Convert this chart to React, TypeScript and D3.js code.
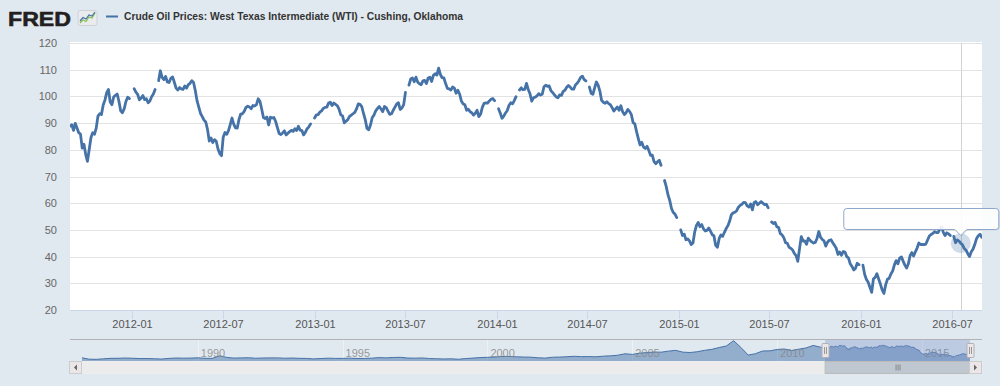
import * as d3 from 'd3';

// Series title shown in the legend
const seriesTitle = 'Crude Oil Prices: West Texas Intermediate (WTI) - Cushing, Oklahoma';

// WTI spot price, dollars per barrel, two readings a week (null = no trading, line breaks)
const wti2011 = [
    88.8, 89.4, 87.3, 89.9, 88.2, 86.4, 85.9, 80.6, 82.1,
    78.2, 75.7, 80.1, 84.6, 86.4, 85.8, 88.1, 92.6, 93.5,
    93.2, 96.8, 98.6, 101.4, 102.6, 97.9, 96.9, 99.8,
    100.4, 100.9, 98.2, 94.6, 93.9, 95.3, 98.1, 99.7, 99.2,
];
const wti2012 = [
    null, 102.9, 101.6, 100.8, 98.7, 99.4, 100.3, 98.8, 99.1,
    97.6, 98.3, 99.9, 100.9, 102.6, null, 105.9, 109.6,
    107.1, 106.3, 107.5, 105.4, 105.2, 106.8, 107.3, 105.3, 103.1,
    102.4, 103.3, 102.8, 102.6, 103.9, 103.1, 104.4, 104.9, 105.9,
    105.2, 102.2, 98.4, 96.0, 93.6, 92.4, 91.1, 90.4, 87.6,
    83.3, 84.4, 82.7, 83.8, 83.2, 80.3, 78.6, 77.8,
    84.8, 86.5, 85.8, 87.2, 89.4, 91.9, 89.6, 88.2, 88.1,
    91.3, 93.4, 93.5, 94.4, 95.9, 96.3, 96.0, 95.4, 96.6,
    96.4, 96.9, 99.1, 98.2, 95.3, 92.1, 91.7, 92.3,
    89.3, 92.2, 91.9, 92.1, 90.6, 88.3, 86.1, 85.7, 86.3,
    87.1, 85.6, 86.2, 86.8, 87.3, 86.9, 87.9, 87.2, 88.8,
    87.4, 87.2, 85.6, 86.5, 87.9, 88.6, 89.7, null,
];
const wti2013 = [
    91.9, 93.1, 93.2, 94.1, 94.6, 95.5, 95.9, 96.0, 97.5,
    97.8, 96.6, 97.5, 97.0, 96.5, 95.2, 93.1, 92.7,
    90.1, 90.7, 91.3, 92.5, 93.0, 93.5, 94.0, 95.3, 97.2,
    97.0, 96.2, 93.6, 91.3, 88.0, 87.5, 89.3, 92.1, 93.0,
    94.6, 95.5, 96.2, 95.3, 94.3, 96.2, 95.8, 94.5, 93.3,
    93.5, 94.8, 96.0, 97.2, 97.6, 95.1, 95.7, 96.9,
    101.5, null, 104.2, 106.5, 106.9, 105.5, 107.2, 105.4, 104.7,
    104.4, 105.8, 106.0, 104.8, 106.9, 107.2, 105.6, 107.9, 108.5,
    108.0, 110.6, 108.2, 107.0, 106.9, 104.8, 103.0, 102.8,
    102.4, 103.5, 103.1, 101.2, 102.3, 100.9, 98.3, 97.2, 96.9,
    94.8, 95.2, 94.3, 93.8, 93.0, 93.7, 94.8, 92.4, 93.3,
    95.9, 97.4, 97.6, 97.5, 98.3, 98.9, 99.2, 98.4,
];
const wti2014 = [
    null, 95.4, 93.7, 91.8, 92.6, 93.8, 94.7, 96.7, 97.6,
    97.2, 98.4, 99.9, null, 102.4, 103.2, 102.5, 102.6,
    104.9, 102.6, 101.0, 98.2, 99.5, 99.7, 100.2, 101.0, 100.5,
    100.8, 103.6, 104.2, 103.8, 103.9, 102.1, 101.4, 100.6, 99.8,
    99.5, 100.6, 100.4, 101.9, 102.3, 103.4, 104.1, 103.5, 102.7,
    102.7, 104.3, 104.9, 105.9, 107.1, 107.6, 106.3, 105.8,
    null, 103.5, 101.2, 100.8, 103.2, 105.4, 104.2, 102.0, 98.5,
    97.8, 97.4, 98.0, 97.3, 96.9, 95.8, 94.5, 95.3, 96.0,
    94.8, 96.5, 94.3, 93.2, 93.9, 95.1, 94.4, 93.2,
    90.2, 89.7, 86.8, 84.2, 81.8, 82.8, 81.0, 80.5, 81.3,
    79.8, 77.9, 78.0, 75.6, 74.8, 75.5, 76.1, 74.2, null,
    68.5, 66.2, 63.1, 61.0, 58.0, 56.5, 55.9, 54.6,
];
const wti2015 = [
    null, 50.0, 47.9, 48.4, 46.3, 46.6, 45.9, 44.5, 45.1,
    49.3, 51.7, 52.8, 51.2, 52.0, 50.4, 49.6, 49.8,
    50.7, 49.6, 48.2, 47.8, 44.2, 43.5, 46.8, 48.1, 47.6,
    49.1, 50.5, 51.6, 53.3, 55.7, 56.4, 56.6, 57.2, 58.5,
    59.2, 59.6, 60.3, 60.2, 59.0, 58.6, 59.7, 57.5, 60.3,
    60.6, 59.4, 60.0, 60.6, 60.0, 59.5, 59.6, 58.3,
    null, 53.0, 52.4, 52.8, 51.2, 50.9, 48.6, 48.1, 47.1,
    45.2, 45.0, 43.5, 43.1, 42.5, 41.2, 40.4, 38.2, 43.0,
    47.5, 45.8, 45.9, 44.6, 46.9, 46.1, 45.5, 45.1,
    45.3, 46.8, 49.4, 47.3, 46.4, 45.9, 43.9, 45.4, 46.1,
    46.3, 45.2, 44.2, 43.1, 40.8, 41.7, 40.5, 41.9, 41.7,
    40.0, 39.5, 37.3, 36.3, 35.0, 35.6, 37.5, 37.0,
];
const wti2016 = [
    null, 36.8, 33.3, 31.4, 30.4, 28.5, 26.6, 31.7, 32.2,
    33.6, 31.6, 29.7, 27.5, 26.2, 29.4, 31.5, 31.9,
    33.5, 34.6, 36.9, 38.5, 37.3, 39.4, 39.9, 38.3, 36.8,
    35.7, 37.3, 40.4, 41.5, 40.2, 41.8, 43.2, 45.1, 44.5,
    44.6, 44.5, 44.7, 46.2, 47.7, 48.3, 48.7, 49.3, 49.0,
    49.0, 50.4, 51.2, 49.1, 47.9, 48.9, 48.5, 47.9,
    null, 47.6, 45.2, 46.2, 45.8, 45.0, 44.4, 43.0, 42.4,
    41.1, 40.0, 41.8, 42.8, 44.5, 46.7, 47.8, 48.4, 47.2,
];
const segmentStarts = ['2011-08-30', '2012-01-02', '2013-01-01', '2014-01-01', '2015-01-01', '2016-01-01'];
const segmentValues = [wti2011, wti2012, wti2013, wti2014, wti2015, wti2016];

// Navigator history, one reading a quarter
const nav1986 = [
    22.0, 12.5, 11.5, 15.0, 18.5, 18.7, 20.5, 19.0, 16.8, 17.0, 15.5, 13.5,
    18.0, 20.5, 19.5, 20.0, 22.0, 18.5, 18.0, 36.0, 25.0, 20.0, 21.5, 22.5,
    19.0, 20.5, 21.5, 21.5, 19.0, 20.5, 18.5, 18.0, 14.5, 17.0, 19.5, 18.0,
    18.0, 19.5, 17.5, 17.5,
];
const nav1996 = [
    19.5, 23.5, 21.5, 24.5, 25.5, 20.5, 19.5, 21.0, 17.0, 15.5, 14.0, 15.0,
    12.0, 17.0, 20.0, 23.5, 25.5, 27.5, 31.5, 31.5, 29.0, 27.5, 26.5, 22.0,
    20.0, 26.0, 27.0, 29.5, 32.5, 30.0, 30.5, 29.0, 33.5, 35.5, 40.0, 50.0,
    45.5, 54.0, 58.0, 62.0,
];
const nav2006 = [
    61.0, 68.0, 73.5, 61.0, 58.5, 64.0, 73.5, 80.5, 93.0, 104.0, 140.5, 93.5,
    41.0, 50.0, 69.0, 70.0, 79.5, 83.0, 72.0, 81.5, 90.0, 107.5, 95.5,
];

const yTicks = [20, 30, 40, 50, 60, 70, 80, 90, 100, 110, 120];
const xTickLabels = ['2012-01', '2012-07', '2013-01', '2013-07', '2014-01', '2014-07', '2015-01', '2015-07', '2016-01', '2016-07'];
const navTickYears = ['1990', '1995', '2000', '2005', '2010', '2015'];
const hoverDate = '2016-07-18';

const FONT = '"Liberation Sans", Arial, sans-serif';
const LINE = '#4572a7';
const BG = '#e1e9f0';
const DAY = 86400000;

type Pt = { date: Date, value: number | null };

function spread(start: string, values: (number | null)[]): Pt[] {
    const t0 = new Date(start).getTime();
    return values.map((v, i) => ({ date: new Date(t0 + i * 3.5 * DAY), value: v }));
}

function quarterly(startYear: number, values: number[]): Pt[] {
    return values.map((v, i) => ({ date: new Date(Date.UTC(startYear + Math.floor(i / 4), (i % 4) * 3, 2)), value: v }));
}

const wti = segmentStarts.flatMap((s, i) => spread(s, segmentValues[i]));
const navData = [
    ...quarterly(1986, nav1986),
    ...quarterly(1996, nav1996),
    ...quarterly(2006, nav2006),
    ...wti.filter(d => d.value != null),
];

export default function App() {
    const plot = { left: 70, right: 982, top: 43, bottom: 310 };
    const nav = { left: 82, right: 970, top: 339, bottom: 361 };

    const x = d3.scaleUtc().domain([new Date('2011-08-30'), new Date('2016-08-30')]).range([plot.left, plot.right]);
    const y = d3.scaleLinear().domain([20, 120]).range([plot.bottom, plot.top]);
    const nx = d3.scaleUtc().domain([new Date('1986-01-02'), new Date('2016-08-30')]).range([nav.left, nav.right]);
    const ny = d3.scaleLinear().domain([0, 145]).range([nav.bottom, nav.top + 1]);

    const line = d3.line<Pt>()
        .defined(d => d.value != null)
        .x(d => x(d.date))
        .y(d => y(d.value as number));

    const navArea = d3.area<Pt>()
        .x(d => nx(d.date))
        .y0(nav.bottom)
        .y1(d => ny(d.value as number));
    const navLine = d3.line<Pt>()
        .x(d => nx(d.date))
        .y(d => ny(d.value as number));

    const parseMonth = d3.utcParse('%Y-%m')!;
    const parseYear = d3.utcParse('%Y')!;

    // hovered point
    const ht = new Date(hoverDate).getTime();
    const hover = d3.least(wti.filter(d => d.value != null), d => Math.abs(d.date.getTime() - ht))!;
    const hx = x(hover.date);
    const hy = y(hover.value as number);

    // selected range in the navigator
    const selL = nx(x.domain()[0]);
    const selR = nx(x.domain()[1]);

    const tipL = hx - 117, tipR = hx + 38, tipT = 208.5, tipB = 229.5;
    const tipPath = `M${tipL + 3},${tipT} L${tipR - 3},${tipT} Q${tipR},${tipT} ${tipR},${tipT + 3} L${tipR},${tipB - 3} Q${tipR},${tipB} ${tipR - 3},${tipB} `
        + `L${hx + 6},${tipB} L${hx},${tipB + 6} L${hx - 6},${tipB} L${tipL + 3},${tipB} Q${tipL},${tipB} ${tipL},${tipB - 3} `
        + `L${tipL},${tipT + 3} Q${tipL},${tipT} ${tipL + 3},${tipT} Z`;

    const handle = (hxp: number) => (
        <g key={hxp}>
            <rect x={hxp - 3.5} y={343.5} width={7} height={14} rx={1} fill="#ebe7e8" stroke="#b2b1b6" />
            <line x1={hxp - 1} x2={hxp - 1} y1={347} y2={354} stroke="#999" />
            <line x1={hxp + 1} x2={hxp + 1} y1={347} y2={354} stroke="#999" />
        </g>
    );

    return (
        <svg width={1000} height={386} style={{ position: 'absolute', left: 0, top: 0, fontFamily: FONT }}>
            <rect width={1000} height={386} fill={BG} />

            {/* header */}
            <text x={8} y={25.5} fontSize={21} fontWeight={900} fill="#231f20" stroke="#231f20" strokeWidth={0.6}
                textLength={63} lengthAdjust="spacingAndGlyphs">FRED</text>
            <rect x={78} y={10.5} width={19} height={15} rx={2} fill="#e9ebed" stroke="#cfd3d6" />
            <polyline points="80,23 83,20 86,21.5 89,17 92,18 95,13" fill="none" stroke="#8cc152" strokeWidth={1.2} />
            <polyline points="80,21 83,17.5 86,19 89,15 92,16 95,12" fill="none" stroke={LINE} strokeWidth={1.2} />
            <line x1={106} x2={118} y1={16.5} y2={16.5} stroke={LINE} strokeWidth={2} />
            <text x={124} y={20} fontSize={11} fontWeight="bold" fill="#333" textLength={339} lengthAdjust="spacingAndGlyphs">{seriesTitle}</text>

            {/* plot */}
            <defs>
                <clipPath id="plotClip">
                    <rect x={plot.left} y={plot.top - 5} width={plot.right - plot.left} height={plot.bottom - plot.top + 10} />
                </clipPath>
            </defs>
            <rect x={plot.left} y={plot.top - 1} width={plot.right - plot.left} height={plot.bottom - plot.top + 1} fill="#fff" />
            {yTicks.map(t => (
                <g key={t}>
                    <line x1={plot.left} x2={plot.right} y1={Math.round(y(t)) + 0.5} y2={Math.round(y(t)) + 0.5} stroke="#e3e3e3" />
                    <text x={57} y={y(t) + 4} fontSize={11} fill="#666" textAnchor="end">{t}</text>
                </g>
            ))}
            <line x1={plot.left} x2={plot.right} y1={plot.bottom + 0.5} y2={plot.bottom + 0.5} stroke="#ccd6eb" />
            {xTickLabels.map(l => {
                const tx = Math.round(x(parseMonth(l)!)) + 0.5;
                return (
                    <g key={l}>
                        <line x1={tx} x2={tx} y1={plot.bottom} y2={plot.bottom + 9} stroke="#ccd6eb" />
                        <text x={tx} y={327.5} fontSize={11} fill="#555" textAnchor="middle">{l}</text>
                    </g>
                );
            })}

            {/* crosshair */}
            <line x1={Math.round(hx) + 0.5} x2={Math.round(hx) + 0.5} y1={plot.top} y2={plot.bottom} stroke="#d2d2d2" />

            <path d={line(wti) ?? ''} fill="none" stroke={LINE} strokeWidth={2.8} strokeLinejoin="round" strokeLinecap="round" clipPath="url(#plotClip)" />

            {/* hover halo */}
            <circle cx={hx} cy={hy} r={10} fill={LINE} fillOpacity={0.25} />

            {/* tooltip */}
            <path d={tipPath} fill="#000" fillOpacity={0.06} transform="translate(1,1)" />
            <path d={tipPath} fill="#fff" fillOpacity={0.9} stroke="#8ea8cc" strokeWidth={1} />

            {/* navigator */}
            {navTickYears.map(yr => {
                const gx = Math.round(nx(parseYear(yr)!)) + 0.5;
                return <line key={yr} x1={gx} x2={gx} y1={nav.top} y2={nav.bottom} stroke="#eef2f6" />;
            })}
            <path d={navArea(navData) ?? ''} fill={LINE} fillOpacity={0.5} />
            <path d={navLine(navData) ?? ''} fill="none" stroke={LINE} strokeWidth={1} />
            {navTickYears.map(yr => (
                <text key={yr} x={nx(parseYear(yr)!) + 3} y={357} fontSize={11} fill="#888" fillOpacity={0.85}>{yr}</text>
            ))}
            <rect x={selL} y={nav.top} width={selR - selL} height={nav.bottom - nav.top} fill="rgb(102,133,194)" fillOpacity={0.3} />
            <path d={`M${plot.left},${nav.top + 0.5} L${plot.right},${nav.top + 0.5}`} stroke="#b2b1b6" fill="none" />
            {handle(Math.round(selL) + 0.5)}
            {handle(Math.round(selR) + 0.5)}

            {/* scrollbar */}
            <rect x={plot.left} y={361.5} width={plot.right - plot.left} height={12} fill="#ececec" stroke="#eeeeee" />
            <rect x={selL} y={361.5} width={selR - selL} height={12} fill="#bfc8d1" stroke="#bbbbbb" />
            {[-2, 0, 2].map(o => (
                <line key={o} x1={(selL + selR) / 2 + o + 0.5} x2={(selL + selR) / 2 + o + 0.5} y1={364.5} y2={370.5} stroke="#888" />
            ))}
            <rect x={plot.left - 0.5} y={361.5} width={12} height={12} fill="#ebe7e8" stroke="#cccccc" />
            <path d={`M${plot.left + 7},${364.5} L${plot.left + 7},${370.5} L${plot.left + 4},${367.5} Z`} fill="#666" />
            <rect x={plot.right - 12.5} y={361.5} width={12} height={12} fill="#ebe7e8" stroke="#cccccc" />
            <path d={`M${plot.right - 8},${364.5} L${plot.right - 8},${370.5} L${plot.right - 5},${367.5} Z`} fill="#666" />
        </svg>
    );
}
